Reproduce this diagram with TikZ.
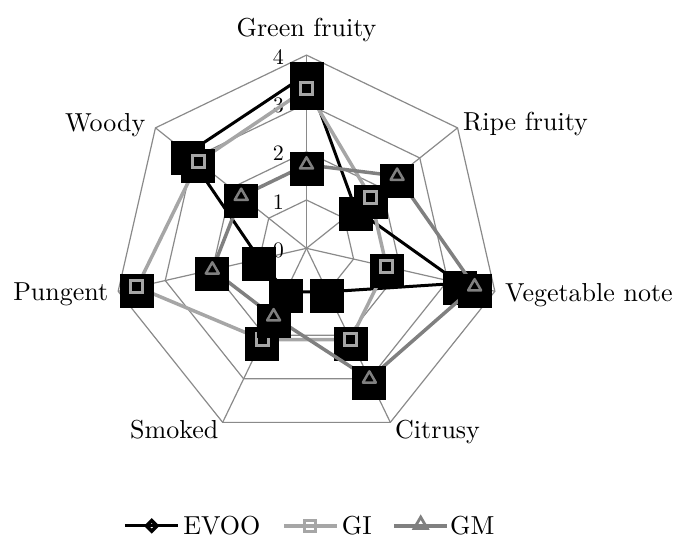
\documentclass[tikz,border=0pt]{standalone}
\usepackage{fontspec}
\setmainfont{lmroman10-regular.otf}
\usetikzlibrary{shapes.geometric}
\definecolor{gridgray}{HTML}{8A8A8A}
\definecolor{gilight}{HTML}{A6A6A6}
\definecolor{gmgray}{HTML}{808080}
\tikzset{
  gridline/.style={draw=gridgray, line width=1.2pt},
  evoo/.style={draw=black, line width=3pt, line join=round},
  gil/.style={draw=gilight, line width=3.5pt, line join=round},
  gml/.style={draw=gmgray, line width=3.5pt, line join=round},
  blk/.style={rectangle, fill=black, minimum size=34pt, inner sep=0pt},
  gimark/.style={rectangle, fill=black, draw=gilight, line width=3pt, minimum size=12pt, inner sep=0pt},
  gmmark/.style={regular polygon, regular polygon sides=3, fill=black, draw=gmgray, line width=2.5pt, minimum size=15pt, inner sep=0pt, line join=round},
  lab/.style={font=\fontsize{26}{30}\selectfont, inner sep=0pt},
  num/.style={font=\fontsize{22}{26}\selectfont, inner sep=0pt, anchor=east},
}
\begin{document}
\begin{tikzpicture}[x=1pt,y=1pt]
\useasboundingbox (-306.5,-289.7) rectangle (375.5,248.3);
\coordinate (O) at (0,0);
% grid
\foreach \k in {0,...,6} \coordinate (V\k) at ({90-\k*360/7}:193.2);
\foreach \l in {1,2,3,4}
  \draw[gridline] (90:{\l*48.3}) \foreach \k in {1,...,6}{ -- ({90-\k*360/7}:{\l*48.3})} -- cycle;
\foreach \k in {0,...,6} \draw[gridline] (O) -- (V\k);
% axis numbers
\foreach \l in {0,...,4} \node[num] (N\l) at (-22.5,{\l*48.3-1.7}) {\l};
% axis labels
\node[lab, anchor=base] (tGF) at (0,211.6) {Green fruity};
\node[lab, anchor=base west] (tRF) at (156.5,117.6) {Ripe fruity};
\node[lab, anchor=base west] (tVN) at (198.5,-53.4) {Vegetable note};
\node[lab, anchor=base west] (tCi) at (88.5,-190) {Citrusy};
\node[lab, anchor=base east] (tSm) at (-88,-190) {Smoked};
\node[lab, anchor=base east] (tPu) at (-198,-51.7) {Pungent};
\node[lab, anchor=base east] (tWo) at (-161,116.6) {Woody};
% data points
\foreach \v [count=\k from 0] in {3.6,1.3,3.25,1.0,1.0,1.0,3.15}
  \coordinate (E\k) at ({90-\k*360/7}:{\v*48.3});
\foreach \v [count=\k from 0] in {3.3,1.7,1.7,2.1,2.1,3.6,2.87}
  \coordinate (I\k) at ({90-\k*360/7}:{\v*48.3});
\foreach \v [count=\k from 0] in {1.73,2.4,3.57,3.0,1.57,2.0,1.73}
  \coordinate (M\k) at ({90-\k*360/7}:{\v*48.3});
% EVOO
\draw[evoo] (E0) -- (E1) -- (E2) -- (E3) -- (E4) -- (E5) -- (E6) -- cycle;
\foreach \k in {0,...,6} \node[blk] (EB\k) at ([yshift=-4.5pt]E\k) {};
% GI
\draw[gil] (I0) -- (I1) -- (I2) -- (I3) -- (I4) -- (I5) -- (I6) -- cycle;
\foreach \k in {0,...,6} \node[blk] (IB\k) at ([yshift=-4.5pt]I\k) {};
\foreach \k in {0,...,6} \node[gimark] (IM\k) at (I\k) {};
% GM
\draw[gml] (M0) -- (M1) -- (M2) -- (M3) -- (M4) -- (M5) -- (M6) -- cycle;
\foreach \k in {0,...,6} \node[blk] (MB\k) at ([yshift=-4.5pt]M\k) {};
\foreach \k in {0,...,6} \node[gmmark] (MM\k) at (M\k) {};
% legend
\coordinate (LEa) at (-181.5,-277.5); \coordinate (LEb) at (-128.5,-277.5);
\coordinate (LIa) at (-22.5,-277.5);  \coordinate (LIb) at (30.5,-277.5);
\coordinate (LMa) at (87.5,-277.5);   \coordinate (LMb) at (140.5,-277.5);
\draw[evoo] (LEa) -- (LEb);
\node[diamond, aspect=1, draw=black, line width=3.5pt, minimum size=12pt, inner sep=0pt] (LEm) at (-154.8,-277.5) {};
\draw[gil] (LIa) -- (LIb);
\node[rectangle, draw=gilight, line width=3pt, minimum size=11pt, inner sep=0pt] (LIm) at (3.5,-277.5) {};
\draw[gml] (LMa) -- (LMb);
\node[regular polygon, regular polygon sides=3, draw=gmgray, line width=2.8pt, minimum size=15pt, inner sep=0pt] (LMm) at (114.2,-276.3) {};
\node[lab, anchor=base west] (tLE) at (-123.2,-286) {EVOO};
\node[lab, anchor=base west] (tLI) at (35.2,-286) {GI};
\node[lab, anchor=base west] (tLM) at (143.5,-286) {GM};
\end{tikzpicture}
\end{document}
